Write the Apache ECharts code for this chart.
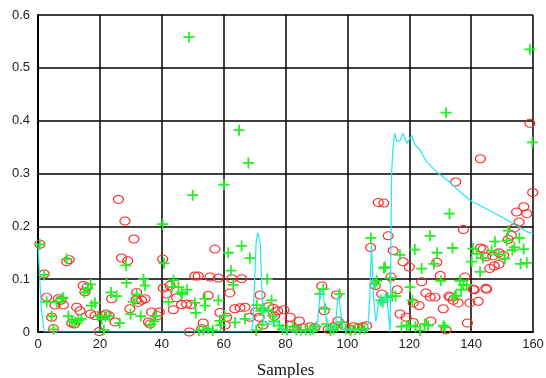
<!DOCTYPE html>
<html>
<head>
<meta charset="utf-8">
<script src="https://cdn.jsdelivr.net/npm/echarts@6/dist/echarts.min.js"></script>
<style>
  html, body { margin: 0; padding: 0; background: #fff; }
  #chart { width: 546px; height: 378px; }
</style>
</head>
<body>
<div id="chart"></div>
<script>
// red circles, [sample, value]
const redPoints = [
  [0.6,0.166],[2,0.11],[2.8,0.066],[4.4,0.028],[5,0.006],[5.5,0.051],[6.6,0.063],[7.4,0.06],[8.2,0.051],
  [9.3,0.133],[10.1,0.137],[10.9,0.017],[11.8,0.015],[12.5,0.047],[13.6,0.04],[14.6,0.088],[15.9,0.085],
  [15.2,0.076],[17,0.034],[18.4,0.031],[19.8,0.001],
  [20.6,0.031],[22,0.034],[23,0.031],[23.8,0.063],[24.9,0.019],[26,0.251],[28.1,0.21],[31,0.176],
  [27,0.14],[29,0.135],[29.7,0.044],[31.9,0.075],[31.7,0.061],[32.4,0.056],[33.5,0.06],[34.6,0.063],
  [35.7,0.019],[36.2,0.015],[36.7,0.038],[38.6,0.031],[39.2,0.038],[40.3,0.138],[40.5,0.083],[41.5,0.072],
  [42.7,0.088],[43.7,0.042],[44.8,0.065],[46.4,0.052],[48,0.053],[49.6,0.052],[48.9,0],
  [50.7,0.106],[51.8,0.106],[55.6,0.104],[58.3,0.102],[57.2,0.157],[62.6,0.101],[65.8,0.101],[62,0.074],
  [55,0.069],[58.8,0.037],[61,0.028],[60.5,0.013],[63.6,0.044],[65.3,0.046],[66.9,0.047],[53.4,0.017],
  [52.9,0.006],[68.5,0.028],[70.4,0.038],[71.5,0.028],[71.8,0.07],[72.8,0.013],[74.5,0.048],[76,0.045],
  [77.5,0.04],[79.5,0.042],[76.5,0.03],[81.5,0.028],[81.5,0.012],[83,0.006],[84.5,0.021],[85.6,0.008],
  [88,0.01],[89.5,0.008],
  [91.7,0.087],[92.5,0.04],[93.8,0.005],[96.5,0.07],[97,0.021],[95.5,0.01],[99,0.012],[100.8,0.005],
  [102,0.01],[103.5,0.008],[105,0.01],[106.2,0.012],
  [107.5,0.16],[110,0.245],[111.8,0.244],[113.2,0.182],[114.8,0.154],[118,0.133],[120,0.123],[109,0.088],
  [111.1,0.072],[114.1,0.104],[116.1,0.08],[117,0.034],[119,0.028],[121.3,0.018],[121.3,0.055],[123.2,0.05],
  [124,0.095],[125.4,0.074],[126.8,0.066],[128.3,0.066],[127,0.021],[128.9,0.132],[130,0.107],[131,0.044],
  [131.9,0.004],
  [132.8,0.068],[134.2,0.06],[135.8,0.055],[137.5,0.194],[138,0.104],[139.6,0.055],[142.3,0.058],[141,0.08],
  [138.8,0.017],[144.8,0.083],[143.9,0.157],[146,0.12],[147.5,0.125],[149,0.128],[147,0.144],[149,0.15],
  [150.5,0.145],[152,0.175],[153,0.183],[154,0.197],[155.5,0.208],[157,0.237],[158,0.224],[154.7,0.227],
  [159.9,0.264],[159,0.395],[143,0.328],[135,0.284],[140.7,0.081],[145,0.081],[133.2,0.066],[143,0.159],
  [144.7,0.142]
];

// green plus signs, [sample, value]
const greenPoints = [
  [0.6,0.166],[2,0.108],[2.8,0.057],[4.4,0.03],[5,0.005],[6,0.057],[7.6,0.063],[8.2,0.065],[9.3,0.138],
  [9.8,0.03],[11,0.02],[12,0.018],[13,0.022],[14,0.025],[15,0.075],[16,0.082],[17,0.09],[17.3,0.05],
  [18.4,0.055],[19.5,0.03],
  [20.6,0.025],[21.8,0.03],[23,0.03],[21.3,0.004],[23.6,0.075],[25.4,0.068],[26.4,0.017],[28.4,0.126],
  [28.6,0.093],[29.9,0.034],[30.8,0.057],[31.9,0.071],[33.2,0.03],[34.1,0.1],[34.6,0.088],[36.4,0.014],
  [37.5,0.02],[38,0.03],[40.3,0.204],[40.7,0.13],[42.2,0.057],[43.3,0.085],[43.8,0.098],[45.4,0.085],
  [46.5,0.072],[48.2,0.08],[48.8,0.558],[50,0.259],[51,0.036],[52,0.003],[46.4,0.075],
  [60.1,0.279],[65,0.382],[68,0.32],[61.5,0.15],[65.8,0.163],[68.5,0.14],[62.4,0.116],[63.1,0.089],
  [74.1,0.1],[54,0.05],[53.9,0.063],[50.7,0.055],[58.3,0.06],[58.8,0.021],[60.3,0.031],[63.7,0.018],
  [59,0.013],[53.5,0.004],[55,0.006],[56.5,0.003],[66.9,0.025],[70.7,0.051],[72,0.04],[73,0.045],
  [74.5,0.04],[75.5,0.06],[75.9,0.03],[76.2,0.02],[70.5,0.003],[72.5,0.014],[78,0.012],[79,0.005],
  [80.5,0.004],[82.5,0.01],[83.5,0.004],[85,0.004],[86.5,0.004],[88,0.004],[89,0.005],[90,0.01],
  [91.1,0.072],[92.2,0.081],[92.8,0.044],[93.3,0.015],[94.5,0.003],[95.5,0.005],[96.5,0.01],[97.4,0.072],
  [98,0.018],[99.5,0.005],[101,0.003],[102.5,0.005],[104,0.005],[105.5,0.006],
  [107.6,0.178],[108.9,0.091],[109.5,0.097],[111.8,0.121],[111.4,0.056],[113.8,0.102],[114.5,0.068],
  [115.6,0.068],[117,0.146],[119.2,0.012],[120,0.012],[120.2,0.085],[121,0.06],[121.8,0.156],[123.5,0.003],
  [124,0.12],[126.1,0.012],[126.7,0.182],[128,0.129],[129,0.15],[130.2,0.097],[131,0.012],[112.2,0.123],
  [110.8,0.06],[113,0.065],[117.5,0.01],[122,0.01],[125,0.015],
  [131.9,0.415],[133,0.224],[134,0.159],[135.1,0.069],[136.4,0.097],[137.5,0.089],[138.6,0.089],
  [140.2,0.133],[140.6,0.158],[141.8,0.148],[142.9,0.114],[143.8,0.14],[146.6,0.154],[147.7,0.171],
  [148.9,0.147],[150.9,0.139],[151.5,0.173],[152,0.192],[153.3,0.155],[154,0.16],[155.6,0.178],[157,0.157],
  [156,0.129],[158,0.131],[159,0.535],[159.8,0.359],[134.6,0.067],[136.8,0.08],[131.5,0.009]
];

// cyan line, [sample, value]
const cyanLine = [
  [0,0.165],[1,0.05],[2,0],[69,0],[69.5,0.02],[70.5,0.17],[71,0.188],[71.8,0.17],[72.7,0.03],[73,0.02],
  [75,0.015],[77,0.02],[78,0.01],[80,0],[89.5,0],[90.3,0.02],[91.3,0.075],[92,0.08],[92.8,0.04],
  [93.5,0.01],[95,0.005],[96.2,0.01],[96.8,0.06],[97.2,0.072],[97.8,0.04],[98.5,0.005],[106.5,0],
  [107.2,0.06],[107.8,0.166],[108.5,0.06],[109.2,0.02],[110.5,0.069],[111.5,0.05],[112.3,0.072],[113,0.05],
  [113.8,0],[114.3,0.3],[114.7,0.345],[115.3,0.376],[116,0.36],[117,0.362],[118,0.376],[119.2,0.357],
  [120.8,0.372],[121.8,0.355],[123.5,0.344],[125.6,0.322],[128.9,0.303],[133,0.284],[135.3,0.271],
  [140.2,0.247],[146,0.23],[152.5,0.209],[158,0.19],[160,0.186]
];

const chart = echarts.init(document.getElementById('chart'));
const labelFont = { fontFamily: 'Liberation Sans', fontSize: 13, color: '#222' };
const plus = 'path://M4.2,0h1.6v10h-1.6zM0,4.2h10v1.6h-10z';

chart.setOption({
  animation: false,
  grid: { left: 38, right: 13, top: 15, bottom: 46, outerBoundsMode: 'none' },
  xAxis: {
    type: 'value', min: 0, max: 160, interval: 20,
    name: 'Samples', nameLocation: 'middle', nameGap: 30,
    nameTextStyle: { fontFamily: 'Liberation Serif', fontSize: 17, color: '#111' },
    axisLine: { lineStyle: { color: '#000', width: 2 } },
    axisTick: { show: false },
    axisLabel: Object.assign({ margin: 6 }, labelFont),
    splitLine: { lineStyle: { color: '#000', width: 1.5 } }
  },
  yAxis: {
    type: 'value', min: 0, max: 0.6, interval: 0.1,
    axisLine: { show: true, lineStyle: { color: '#000', width: 2 } },
    axisTick: { show: false },
    axisLabel: Object.assign({ margin: 8 }, labelFont),
    splitLine: { lineStyle: { color: '#000', width: 1.5 } }
  },
  series: [
    {
      type: 'line', data: cyanLine, showSymbol: false,
      lineStyle: { color: '#22e8f0', width: 1.2 }
    },
    {
      type: 'scatter', data: redPoints, symbol: 'circle', symbolSize: [10, 8],
      itemStyle: { color: 'rgba(0,0,0,0)', borderColor: '#ff2a2a', borderWidth: 1.1, opacity: 1 }
    },
    {
      type: 'scatter', data: greenPoints, symbol: plus, symbolSize: 11,
      itemStyle: { color: '#22f022', opacity: 1 }
    }
  ]
});
</script>
</body>
</html>
